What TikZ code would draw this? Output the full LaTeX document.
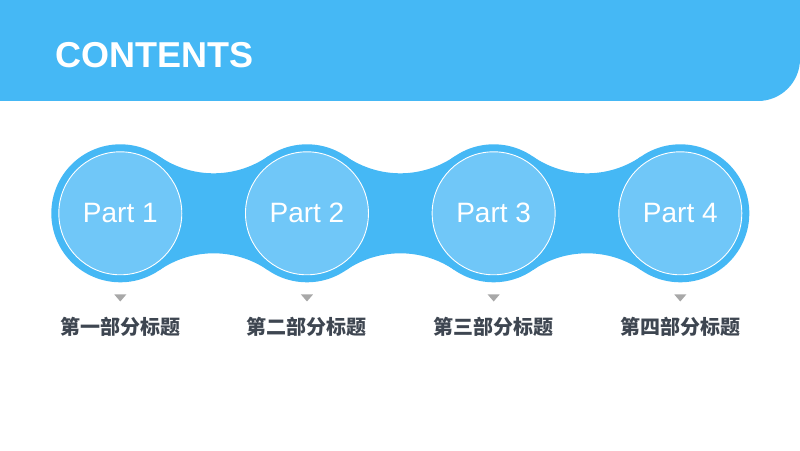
\documentclass[tikz,border=0pt]{standalone}
\usepackage{fontspec}
\setmainfont{Liberation Sans}
\newfontfamily\cjk{Noto Sans CJK SC}
\definecolor{hdr}{HTML}{45B8F5}
\definecolor{innerc}{HTML}{70C7F8}
\definecolor{lbl}{HTML}{3E4651}
\definecolor{tri}{HTML}{A8A8A8}
\tikzset{
  outerc/.style={circle,fill=hdr,minimum size=138pt,inner sep=0pt},
  partc/.style={circle,fill=innerc,draw=white,line width=0.9pt,minimum size=123pt,inner sep=0pt,text=white,font=\fontsize{28}{28}\selectfont},
  sublbl/.style={text=lbl,font=\cjk\bfseries\fontsize{20}{20}\selectfont,inner sep=0pt},
  band/.style={fill=hdr},
  marker/.style={fill=tri}
}
\begin{document}
\begin{tikzpicture}[x=1pt,y=1pt]
\useasboundingbox (0,0) rectangle (800,450);
% header
\fill[hdr] (0,450) -- (800,450) -- (800,391) arc[start angle=0,end angle=-90,radius=42] -- (0,349) -- cycle;
\node[anchor=base west,text=white,font=\bfseries\fontsize{36}{36}\selectfont,inner sep=0pt] (title) at (55.5,382.7) {CONTENTS};
% bands
\foreach \i in {0,1,2}{
  \begin{scope}[xshift=186.67*\i]
  \fill[band] (159.4,293.55) arc[start angle=235.47,end angle=304.53,radius=95.68]
    -- (267.87,179.85) arc[start angle=55.47,end angle=124.53,radius=95.68] -- cycle;
  \end{scope}
}
% circles
\foreach \i/\t/\s in {1/Part 1/第一部分标题,2/Part 2/第二部分标题,3/Part 3/第三部分标题,4/Part 4/第四部分标题}{
  \pgfmathsetmacro{\cx}{120.3+186.67*(\i-1)}
  \node[outerc] (o\i) at (\cx,236.7) {};
  \node[partc] (p\i) at (o\i) {\t};
  \fill[marker] (\cx-6,155.5) -- (\cx+6,155.5) -- (\cx,148.5) -- cycle;
  \node[sublbl] (s\i) at (\cx,123) {\s};
}
\end{tikzpicture}
\end{document}
